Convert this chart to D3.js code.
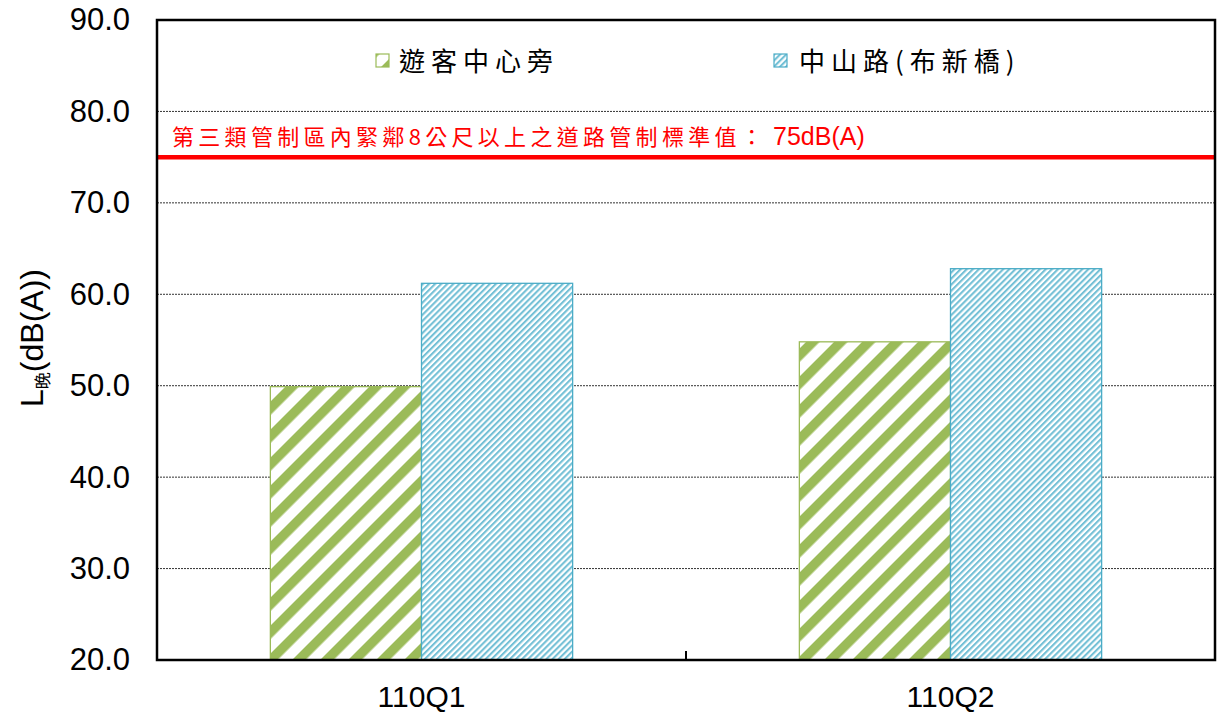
<!DOCTYPE html>
<html><head><meta charset="utf-8">
<script src="https://cdn.jsdelivr.net/npm/d3@7"></script>
<style>body{margin:0;background:#fff}svg{display:block}</style>
</head><body>
<svg id="c" width="1218" height="717"></svg>
<script>
const categories = ["110Q1", "110Q2"];
const seriesNames = ["遊客中心旁", "中山路(布新橋)"];
const greenValues = [49.9, 54.8];
const blueValues = [61.2, 62.8];
const yTicks = [20, 30, 40, 50, 60, 70, 80, 90];
const limitValue = 75;
const limitLabelCJK = "第三類管制區內緊鄰8公尺以上之道路管制標準值：";
const limitLabelValue = "75dB(A)";

const svg = d3.select("#c");
const L = 157, R = 1215, T = 20, B = 660;
const x = d3.scaleBand().domain(categories).range([L, R]).paddingInner(0).paddingOuter(0);
const y = d3.scaleLinear().domain([20, 90]).range([B, T]);
const inner = d3.scaleBand().domain([0, 1]).range([0, x.bandwidth()]).paddingOuter(0.75).paddingInner(0);

const defs = svg.append("defs");
const pg = defs.append("pattern").attr("id", "pg").attr("patternUnits", "userSpaceOnUse")
  .attr("width", 19.8).attr("height", 19.8).attr("patternTransform", "rotate(45)");
pg.append("rect").attr("width", 19.8).attr("height", 19.8).attr("fill", "#fff");
pg.append("rect").attr("width", 9.5).attr("height", 19.8).attr("fill", "#9bbb59");
const pb = defs.append("pattern").attr("id", "pb").attr("patternUnits", "userSpaceOnUse")
  .attr("width", 4.3).attr("height", 4.3).attr("patternTransform", "rotate(45)");
pb.append("rect").attr("width", 4.3).attr("height", 4.3).attr("fill", "#fff");
pb.append("rect").attr("width", 2.1).attr("height", 4.3).attr("fill", "#74c0d6");

// gridlines
svg.append("g").selectAll("line").data(yTicks.slice(1, -1)).join("line")
  .attr("x1", L).attr("x2", R).attr("y1", d => y(d)).attr("y2", d => y(d))
  .attr("stroke", "#333").attr("stroke-width", 1).attr("stroke-dasharray", "2,1");

// bars
const series = [
  {vals: greenValues, fill: "url(#pg)", stroke: "#9bbb59"},
  {vals: blueValues, fill: "url(#pb)", stroke: "#4bacc6"}
];
series.forEach((s, i) => {
  svg.append("g").selectAll("rect").data(categories).join("rect")
    .attr("x", (c) => x(c) + inner(i))
    .attr("width", inner.bandwidth())
    .attr("y", (c, j) => y(s.vals[j]))
    .attr("height", (c, j) => B - y(s.vals[j]))
    .attr("fill", s.fill).attr("stroke", s.stroke).attr("stroke-width", 1.3);
});

// limit line
svg.append("line").attr("x1", L).attr("x2", R).attr("y1", y(limitValue)).attr("y2", y(limitValue))
  .attr("stroke", "#ff0000").attr("stroke-width", 4.5);
const lt = svg.append("text").attr("x", 172).attr("y", 145).attr("fill", "#ff0000");
lt.append("tspan").attr("font-family", "'Noto Sans CJK TC', sans-serif")
  .attr("font-size", 22).attr("letter-spacing", 4.3).text(limitLabelCJK);
lt.append("tspan").attr("x", 773).attr("font-family", "'Liberation Sans', Arial, sans-serif")
  .attr("font-size", 25).text(limitLabelValue);

// frame
svg.append("rect").attr("x", L).attr("y", T).attr("width", R - L).attr("height", B - T)
  .attr("fill", "none").attr("stroke", "#000").attr("stroke-width", 2.5);

// y axis
const yAxis = d3.axisLeft(y).tickValues(yTicks).tickFormat(d3.format(".1f")).tickSize(0).tickPadding(27);
const gy = svg.append("g").attr("transform", `translate(${L},0)`).call(yAxis);
gy.select(".domain").remove();
gy.selectAll("text").attr("font-family", "'Liberation Sans', Arial, sans-serif").attr("font-size", 31).attr("fill", "#000");

// x axis
const xAxis = d3.axisBottom(x).tickSize(0).tickPadding(26);
const gx = svg.append("g").attr("transform", `translate(0,${B})`).call(xAxis);
gx.select(".domain").remove();
gx.selectAll("text").attr("font-family", "'Liberation Sans', Arial, sans-serif").attr("font-size", 30).attr("fill", "#000");
// category divider tick
svg.append("g").selectAll("line").data(categories.slice(1)).join("line")
  .attr("x1", d => x(d)).attr("x2", d => x(d)).attr("y1", B - 9).attr("y2", B)
  .attr("stroke", "#000").attr("stroke-width", 2);

// y label
const yl = svg.append("text").attr("transform", "translate(43,338) rotate(-90)")
  .attr("text-anchor", "middle").attr("font-family", "'Liberation Sans', Arial, sans-serif")
  .attr("font-size", 32).attr("fill", "#000");
yl.append("tspan").text("L");
yl.append("tspan").attr("font-size", 17).attr("font-family", "'Noto Sans CJK TC', sans-serif").attr("dy", 6).text("晚");
yl.append("tspan").attr("dy", -6).text("(dB(A))");

// legend
const legend = [
  {name: seriesNames[0], fill: "url(#pg)", stroke: "#9bbb59", sx: 376, tx: 399},
  {name: seriesNames[1], fill: "url(#pb)", stroke: "#4bacc6", sx: 774, tx: 799}
];
const lg = svg.append("g");
legend.forEach(l => {
  lg.append("rect").attr("x", l.sx).attr("y", 54).attr("width", 13).attr("height", 13)
    .attr("fill", l.fill).attr("stroke", l.stroke).attr("stroke-width", 1.2);
  lg.append("text").attr("x", l.tx).attr("y", 71)
    .attr("font-family", "'Noto Sans CJK TC', sans-serif").attr("font-size", 26)
    .attr("letter-spacing", 6).attr("fill", "#000").text(l.name);
});
</script>
</body></html>
